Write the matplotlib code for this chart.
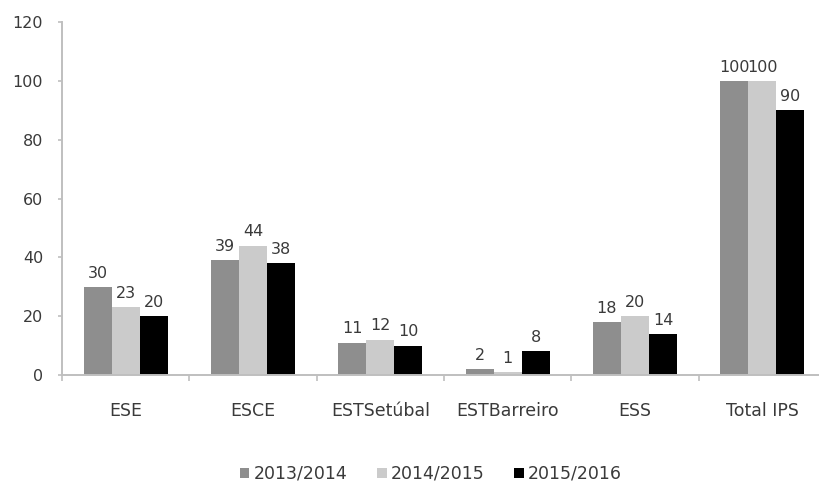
import matplotlib
matplotlib.use("Agg")
import matplotlib.pyplot as plt
import numpy as np

categories = ["ESE", "ESCE", "ESTSetúbal", "ESTBarreiro", "ESS", "Total IPS"]
series_names = ["2013/2014", "2014/2015", "2015/2016"]
v2013 = [30, 39, 11, 2, 18, 100]
v2014 = [23, 44, 12, 1, 20, 100]
v2015 = [20, 38, 10, 8, 14, 90]
colors = ["#8e8e8e", "#cbcbcb", "#000000"]

plt.rcParams['font.family'] = ['DejaVu Sans']
fig = plt.figure(figsize=(8.19, 4.84), dpi=100)
W, H = 819, 484
x0, x1 = 62, 826
y0, y1 = 375, 22
ax = fig.add_axes([x0 / W, 1 - y0 / H, (x1 - x0) / W, (y0 - y1) / H])

x = np.arange(len(categories))
bw = 0.22
txt = "#3a3a3a"
for i, (vals, name, c) in enumerate(zip([v2013, v2014, v2015], series_names, colors)):
    pos = x + (i - 1) * bw
    ax.bar(pos, vals, width=bw, color=c, label=name, zorder=2)
    for p, v in zip(pos, vals):
        ax.annotate(str(v), (p, v), xytext=(0, 4.5), textcoords="offset points",
                    ha="center", va="bottom", fontsize=11.5, color=txt)

ax.set_xlim(-0.5, len(categories) - 0.5)
ax.set_ylim(0, 120)
ax.set_yticks(range(0, 121, 20))
ax.set_xticks(x)
ax.set_xticklabels(categories)
ax.set_xticks(np.arange(-0.5, len(categories), 1), minor=True)
ax.tick_params(axis="x", which="major", length=0, pad=19.5, labelsize=12.5, labelcolor=txt)
ax.tick_params(axis="x", which="minor", length=4, width=1.2, color="#bfbfbf", direction="out")
ax.tick_params(axis="y", length=3, width=1.2, color="#bfbfbf", labelsize=11.5, labelcolor=txt, pad=10.5)
for s in ["top", "right"]:
    ax.spines[s].set_visible(False)
for s in ["left", "bottom"]:
    ax.spines[s].set_color("#bfbfbf")
    ax.spines[s].set_linewidth(1.4)

leg = fig.legend(loc="center", bbox_to_anchor=(431 / W, 1 - 474 / H), ncol=3, frameon=False,
                 fontsize=12.5, handlelength=0.55, handleheight=0.55, handletextpad=0.25,
                 columnspacing=1.7)
for t in leg.get_texts():
    t.set_color(txt)

fig.savefig("out.png", dpi=100)
